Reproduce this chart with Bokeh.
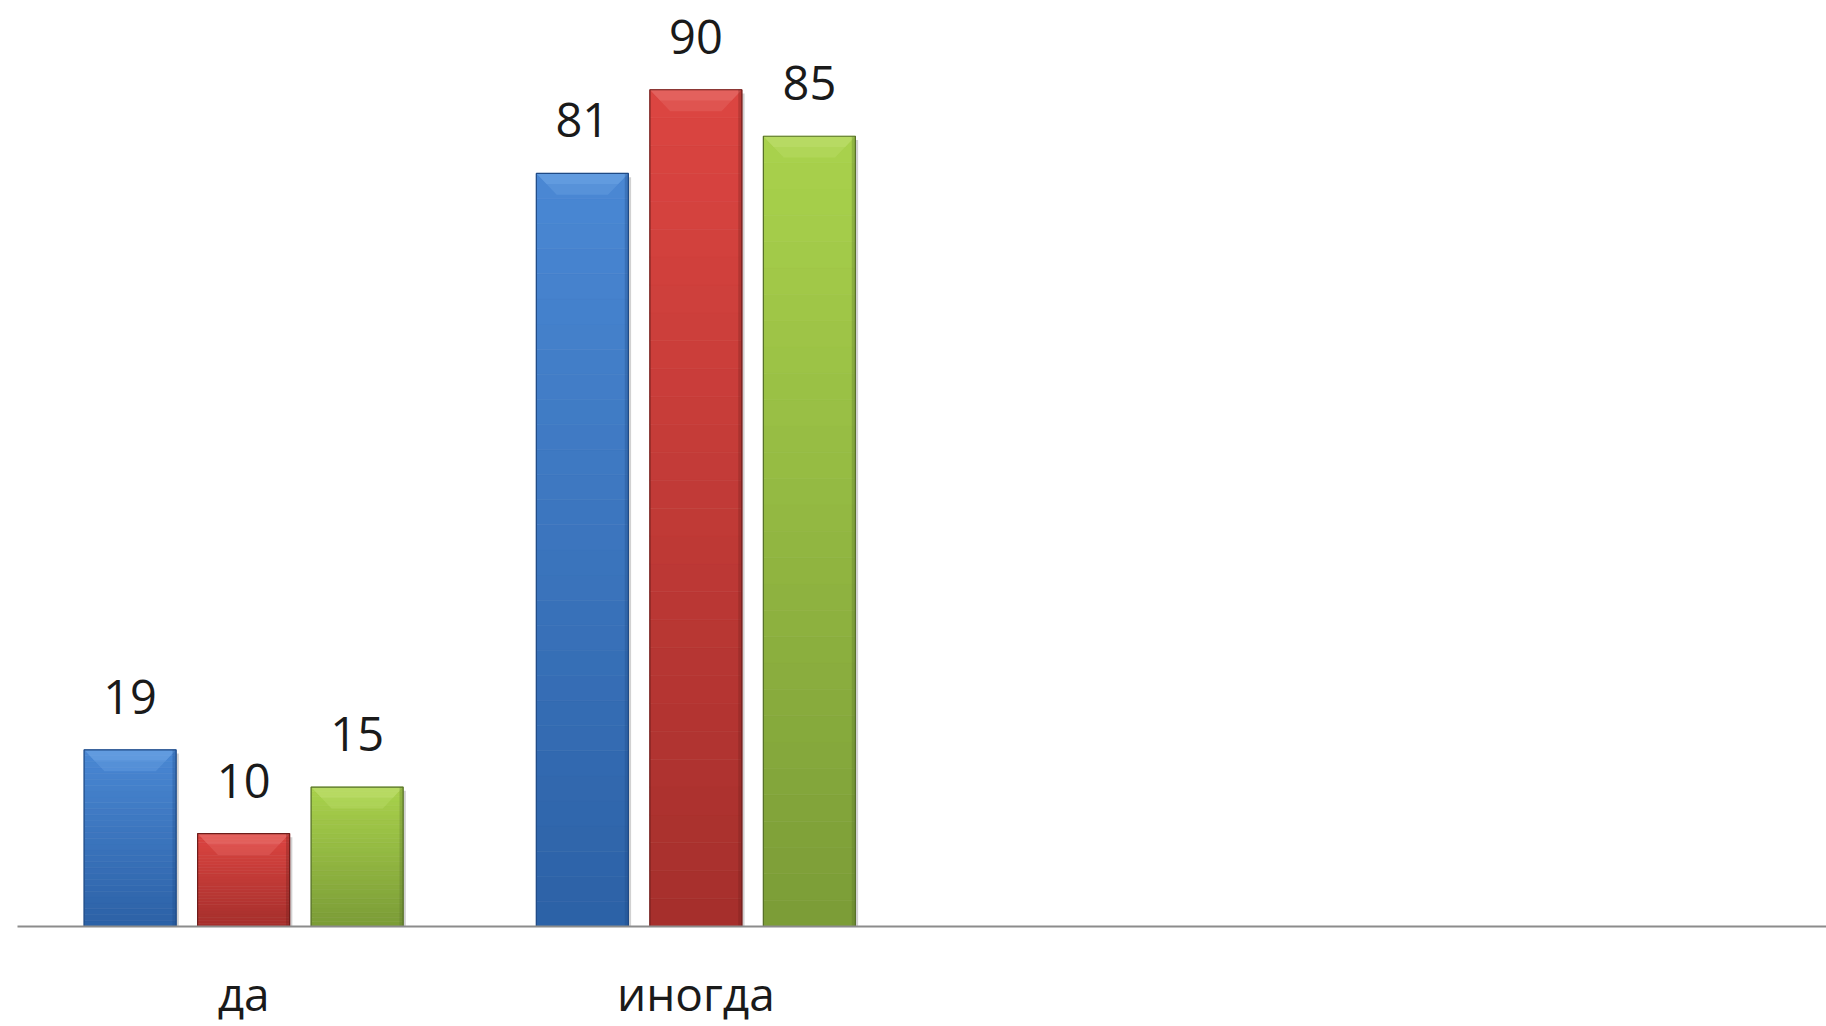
import numpy as np
from bokeh.plotting import figure
from bokeh.models import Range1d, FixedTicker, ColumnDataSource
from bokeh.core.properties import value
from bokeh.embed import file_html
from bokeh.resources import INLINE

# ---- data -------------------------------------------------------------
categories = ["да", "иногда", "", ""]
series_blue = [19, 81]
series_red = [10, 90]
series_green = [15, 85]

# ---- style ------------------------------------------------------------
FONT = "Open Sans"
LABEL_SIZE = "47px"
AXIS_LABEL_SIZE = "46px"
TEXT_COLOR = "#1a1a1a"
BAR_WIDTH = 0.2035
OFFSETS = [-0.251, 0.0, 0.251]
N_SLICES = 30
BEVEL_DX = 0.045
BEVEL_DY = 2.3
# (top colour, bottom colour, bevel highlight, edge)
PALETTE = [
    ("#4a88d4", "#2c61a6", "#6fa6e6", "#1f4a85"),
    ("#dc4541", "#a52f2c", "#e8706c", "#6e1d1b"),
    ("#a9d24c", "#7b9c37", "#c0e070", "#57702a"),
]


def blend(c_bottom, c_top, t):
    a = np.array([int(c_bottom[i:i + 2], 16) for i in (1, 3, 5)], float)
    b = np.array([int(c_top[i:i + 2], 16) for i in (1, 3, 5)], float)
    c = np.round(a + (b - a) * t).astype(int)
    return "#%02x%02x%02x" % tuple(c)


cat_pos = np.arange(len(categories)) + 0.5

p = figure(
    width=1826, height=1026,
    x_range=Range1d(0, len(categories)),
    y_range=Range1d(0, 99.6),
    output_backend="svg", toolbar_location=None,
    min_border_left=17, min_border_right=0,
    min_border_top=0, min_border_bottom=100,
    background_fill_color="white", border_fill_color="white",
)
p.outline_line_color = None
p.xgrid.grid_line_color = None
p.ygrid.grid_line_color = None
p.yaxis.visible = False

all_series = [series_blue, series_red, series_green]
for s_idx, vals in enumerate(all_series):
    top_c, bot_c, bevel_c, edge_c = PALETTE[s_idx]
    off = OFFSETS[s_idx]
    xs_c = [cat_pos[i] + off for i in range(len(vals))]

    # soft shadow to the right
    p.quad(left=[x - BAR_WIDTH / 2 + 0.006 for x in xs_c],
           right=[x + BAR_WIDTH / 2 + 0.006 for x in xs_c],
           bottom=[0] * len(vals), top=[v - 0.4 for v in vals],
           fill_color="black", fill_alpha=0.18, line_color=None)

    # vertical gradient made of thin slices
    left, right, bottom, top, colors = [], [], [], [], []
    for x, v in zip(xs_c, vals):
        for k in range(N_SLICES):
            left.append(x - BAR_WIDTH / 2)
            right.append(x + BAR_WIDTH / 2)
            bottom.append(v * k / N_SLICES)
            top.append(v * (k + 1) / N_SLICES)
            colors.append(blend(bot_c, top_c, (k + 0.5) / N_SLICES))
    src = ColumnDataSource(dict(left=left, right=right, bottom=bottom,
                                top=top, color=colors))
    p.quad(left="left", right="right", bottom="bottom", top="top",
           fill_color="color", line_color="color", line_width=0.6,
           source=src)

    # bevelled top face: two layers so it fades downwards
    for frac, alpha in ((1.0, 0.35), (0.5, 0.45)):
        bx, by = [], []
        for x, v in zip(xs_c, vals):
            l, r = x - BAR_WIDTH / 2, x + BAR_WIDTH / 2
            bx.append([l, r, r - BEVEL_DX * frac, l + BEVEL_DX * frac])
            by.append([v, v, v - BEVEL_DY * frac, v - BEVEL_DY * frac])
        p.patches(xs=bx, ys=by, fill_color=bevel_c, fill_alpha=alpha,
                  line_color=None)

    # darker right side strip
    p.quad(left=[x + BAR_WIDTH / 2 - 0.008 for x in xs_c],
           right=[x + BAR_WIDTH / 2 for x in xs_c],
           bottom=[0] * len(vals), top=[v for v in vals],
           fill_color=edge_c, fill_alpha=0.3, line_color=None)

    # outline
    p.quad(left=[x - BAR_WIDTH / 2 for x in xs_c],
           right=[x + BAR_WIDTH / 2 for x in xs_c],
           bottom=[0] * len(vals), top=list(vals),
           fill_color=None, line_color=edge_c, line_width=1.2)

    # value labels
    p.text(x=xs_c, y=list(vals), text=[str(v) for v in vals],
           text_align="center", text_baseline="alphabetic", y_offset=-53,
           text_font=value(FONT), text_font_size=LABEL_SIZE,
           text_color=TEXT_COLOR)

ax = p.xaxis[0]
ax.ticker = FixedTicker(ticks=[float(c) for c in cat_pos])
ax.major_label_overrides = {float(c): name for c, name in zip(cat_pos, categories)}
ax.axis_line_color = "#8c8c8c"
ax.axis_line_width = 2
ax.major_tick_line_color = None
ax.minor_tick_line_color = None
ax.major_label_text_font = FONT
ax.major_label_text_font_size = AXIS_LABEL_SIZE
ax.major_label_text_color = TEXT_COLOR
ax.major_label_standoff = 29

with open("out.html", "w") as f:
    f.write(file_html(p, INLINE))
